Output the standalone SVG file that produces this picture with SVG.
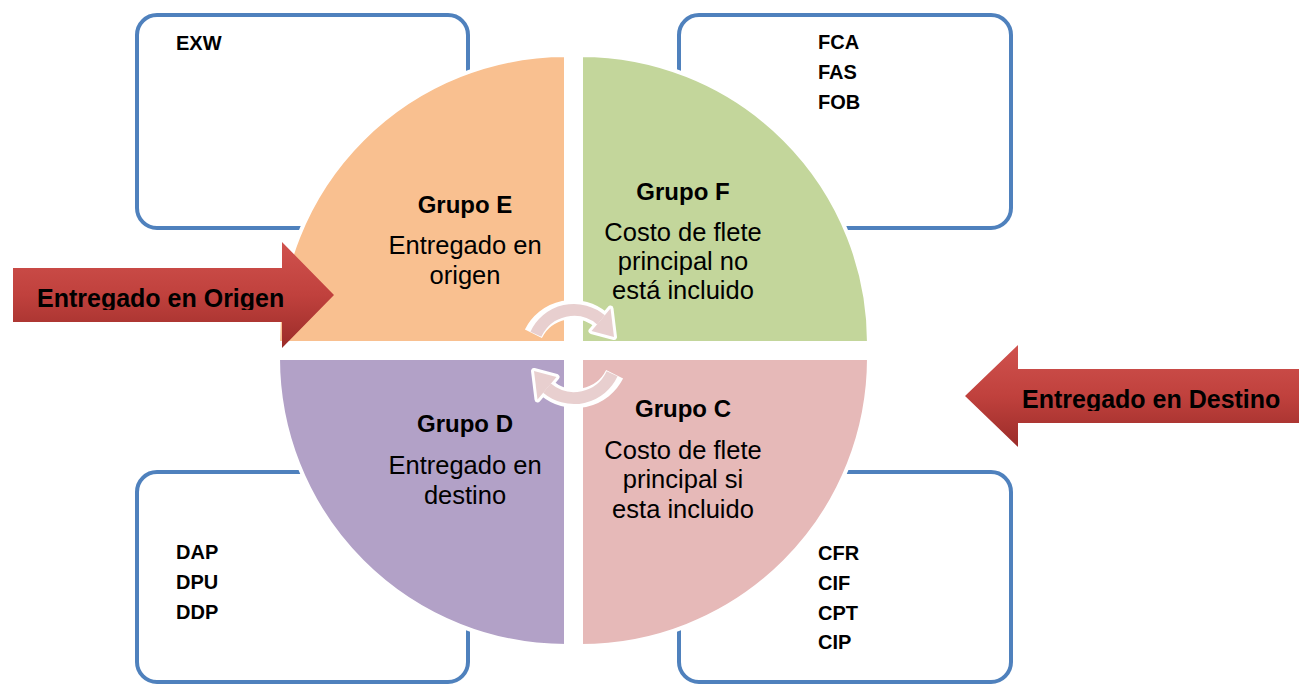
<svg xmlns="http://www.w3.org/2000/svg" width="1299" height="687" viewBox="0 0 1299 687">
<style>
text{font-family:"Liberation Sans",Arial,sans-serif;fill:#000}
.box{fill:#fff;stroke:#4F81BD;stroke-width:4}
.code{font-size:20px;font-weight:bold}
.title{font-size:24px;font-weight:bold;text-anchor:middle}
.body{font-size:25.5px;text-anchor:middle}
.quad{stroke:#fff;stroke-width:4}
.arrtxt{font-size:25px;font-weight:bold}
.cyc{fill:none;stroke:#E8CFCF;stroke-width:12}
.cycw{fill:none;stroke:#fff;stroke-width:19}
</style>
<defs>
<linearGradient id="red" x1="0" y1="0" x2="0" y2="1">
<stop offset="0" stop-color="#D0524E"/>
<stop offset="0.5" stop-color="#C0413D"/>
<stop offset="1" stop-color="#9B2C29"/>
</linearGradient>
<clipPath id="clipL"><rect x="13" y="240" width="330" height="70"/></clipPath>
<clipPath id="clipR"><rect x="960" y="340" width="339" height="71"/></clipPath>
<g id="cycArrow">
<path class="cycw" d="M533.4,333.7 A44,44 0 0 1 601,319.8"/>
<polygon points="610.5,308.5 591.5,331 614,337" fill="#fff" stroke="#fff" stroke-width="6" stroke-linejoin="round"/>
<path class="cyc" d="M535.9,334.3 A42,42 0 0 1 601,319.8"/>
<polygon points="610.5,308.5 591.5,331 614,337" fill="#E8CFCF"/>
</g>
</defs>
<rect width="1299" height="687" fill="#fff"/>

<g id="box-exw"><rect class="box" x="137" y="15" width="331" height="213" rx="20"/><text class="code" x="176" y="50">EXW</text></g>
<g id="box-f"><rect class="box" x="679" y="15" width="332" height="213" rx="20"/><text class="code" x="818" y="49">FCA</text><text class="code" x="818" y="79">FAS</text><text class="code" x="818" y="109">FOB</text></g>
<g id="box-d"><rect class="box" x="137" y="472" width="331" height="210" rx="20"/><text class="code" x="176" y="559">DAP</text><text class="code" x="176" y="589">DPU</text><text class="code" x="176" y="619">DDP</text></g>
<g id="box-c"><rect class="box" x="679" y="472" width="332" height="210" rx="20"/><text class="code" x="818" y="560">CFR</text><text class="code" x="818" y="590">CIF</text><text class="code" x="818" y="620">CPT</text><text class="code" x="818" y="649">CIP</text></g>

<g id="grupo-e"><path class="quad" fill="#F9C090" d="M566,343 H278 A288,288 0 0 1 566,55 Z"/>
<text class="title" x="465" y="213">Grupo E</text><text class="body" x="465" y="254">Entregado en</text><text class="body" x="465" y="284">origen</text></g>
<g id="grupo-f"><path class="quad" fill="#C3D69B" d="M581,343 V55 A288,288 0 0 1 869,343 Z"/>
<text class="title" x="683" y="200">Grupo F</text><text class="body" x="683" y="241">Costo de flete</text><text class="body" x="683" y="270">principal no</text><text class="body" x="683" y="299">está incluido</text></g>
<g id="grupo-d"><path class="quad" fill="#B2A1C7" d="M566,358 V646 A288,288 0 0 1 278,358 Z"/>
<text class="title" x="465" y="432">Grupo D</text><text class="body" x="465" y="474">Entregado en</text><text class="body" x="465" y="504">destino</text></g>
<g id="grupo-c"><path class="quad" fill="#E6B9B8" d="M581,358 H869 A288,288 0 0 1 581,646 Z"/>
<text class="title" x="683" y="417">Grupo C</text><text class="body" x="683" y="459">Costo de flete</text><text class="body" x="683" y="488">principal si</text><text class="body" x="683" y="518">esta incluido</text></g>

<g id="connectors">
<use href="#cycArrow"/>
<use href="#cycArrow" transform="rotate(180 574 354)"/>
</g>

<g id="arrow-origen"><polygon fill="url(#red)" points="13,268 282,268 282,242 334,295 282,348 282,322 13,322"/>
<text class="arrtxt" x="37" y="307" clip-path="url(#clipL)">Entregado en Origen</text></g>
<g id="arrow-destino"><polygon fill="url(#red)" points="1299,369 1018,369 1018,345 965,396 1018,447 1018,423 1299,423"/>
<text class="arrtxt" x="1022" y="408" clip-path="url(#clipR)">Entregado en Destino</text></g>
</svg>
